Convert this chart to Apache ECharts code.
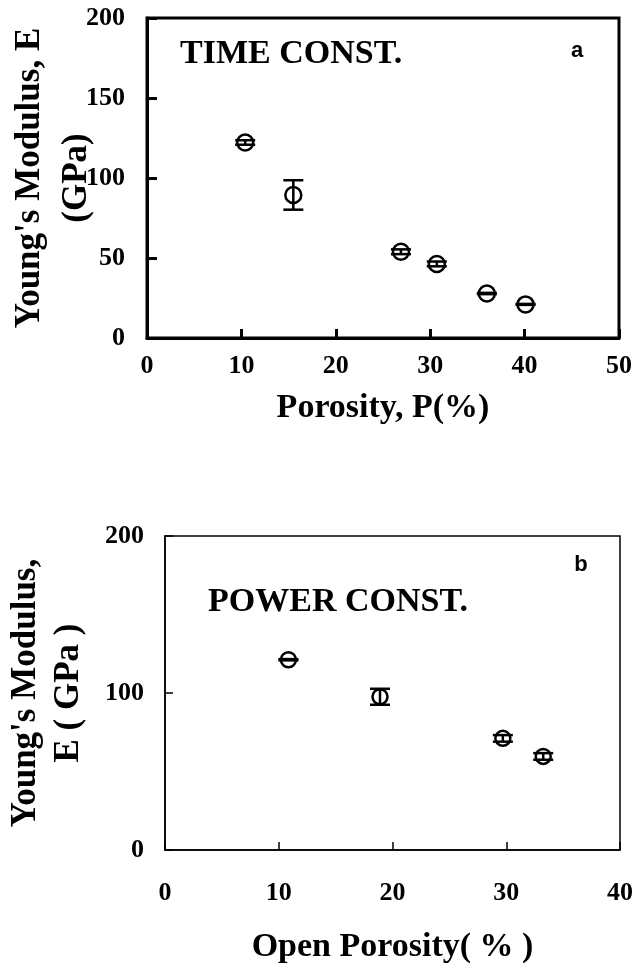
<!DOCTYPE html>
<html>
<head>
<meta charset="utf-8">
<script src="https://cdn.jsdelivr.net/npm/echarts@6/dist/echarts.min.js"></script>
<style>
  html, body { margin: 0; padding: 0; background: #fff; }
  #main { width: 632px; height: 965px; }
</style>
</head>
<body>
<div id="main"></div>
<script>
// panel a: time constant
var porosityA = [10.4, 15.5, 26.9, 30.7, 36.0, 40.1];
var modulusA = [122.2, 89.4, 53.9, 46.3, 27.8, 21.0];
var errorA = [1.4, 9.2, 1.5, 1.5, 0.4, 0.3];
var xTicksA = [0, 10, 20, 30, 40, 50];
var yTicksA = [0, 50, 100, 150, 200];

// panel b: power constant
var openPorosityB = [10.85, 18.9, 29.7, 33.25];
var modulusB = [121.2, 97.6, 71.1, 59.6];
var errorB = [0.4, 5.1, 2.1, 2.1];
var xTicksB = [0, 10, 20, 30, 40];
var yTicksB = [0, 100, 200];

var serif = '"Liberation Serif", "Times New Roman", serif';
var sans = '"Liberation Sans", Arial, sans-serif';

function pack(xs, ys, es) {
  return xs.map(function (x, i) { return [x, ys[i], es[i]]; });
}

function errorBar(capW, lw) {
  return function (params, api) {
    var x = api.value(0), y = api.value(1), e = api.value(2);
    var hi = api.coord([x, y + e]);
    var lo = api.coord([x, y - e]);
    var st = { stroke: '#000', lineWidth: lw, fill: null };
    return {
      type: 'group',
      children: [
        { type: 'line', shape: { x1: hi[0], y1: hi[1], x2: lo[0], y2: lo[1] }, style: st },
        { type: 'line', shape: { x1: hi[0] - capW / 2, y1: hi[1], x2: hi[0] + capW / 2, y2: hi[1] }, style: st },
        { type: 'line', shape: { x1: lo[0] - capW / 2, y1: lo[1], x2: lo[0] + capW / 2, y2: lo[1] }, style: st }
      ]
    };
  };
}

function valAxis(ticks, idx, lw, extra) {
  var ax = {
    type: 'value',
    gridIndex: idx,
    min: ticks[0],
    max: ticks[ticks.length - 1],
    interval: ticks[1] - ticks[0],
    nameMoveOverlap: false,
    axisLine: { show: true, lineStyle: { color: '#000', width: lw } },
    axisTick: { show: true, inside: true, length: 9, lineStyle: { color: '#000', width: lw } },
    splitLine: { show: false },
    axisLabel: { color: '#000', fontFamily: serif, fontWeight: 'bold', fontSize: 26 },
    nameTextStyle: { color: '#000', fontFamily: serif, fontWeight: 'bold', fontSize: 34 }
  };
  for (var k in extra) {
    if (typeof extra[k] === 'object' && ax[k]) Object.assign(ax[k], extra[k]);
    else ax[k] = extra[k];
  }
  return ax;
}

var myChart = echarts.init(document.getElementById('main'));

var option = {
  backgroundColor: '#fff',
  animation: false,
  grid: [
    { left: 147, right: 13, top: 18, bottom: 627, show: true, borderColor: '#000', borderWidth: 3,
      containLabel: false, outerBoundsMode: 'none' },
    { left: 165, right: 12, top: 536, bottom: 115, show: true, borderColor: '#000', borderWidth: 1.5,
      containLabel: false, outerBoundsMode: 'none' }
  ],
  xAxis: [
    valAxis(xTicksA, 0, 3, {
      name: 'Porosity, P(%)', nameLocation: 'middle', nameGap: 53,
      axisLabel: { margin: 15 }
    }),
    valAxis(xTicksB, 1, 1.5, {
      name: 'Open Porosity( % )', nameLocation: 'middle', nameGap: 80,
      axisLabel: { margin: 30 }, axisTick: { length: 8 }
    })
  ],
  yAxis: [
    valAxis(yTicksA, 0, 3, {
      name: "Young's Modulus, E\n(GPa)", nameLocation: 'middle', nameGap: 47, nameRotate: 90,
      nameTextStyle: { lineHeight: 47, fontSize: 35 },
      axisLabel: { margin: 22 }, axisTick: { length: 10 }
    }),
    valAxis(yTicksB, 1, 1.5, {
      name: "Young's Modulus,\nE ( GPa )", nameLocation: 'middle', nameGap: 75, nameRotate: 90,
      nameTextStyle: { lineHeight: 43, fontSize: 35 },
      axisLabel: { margin: 21 }, axisTick: { length: 8 }
    })
  ],
  graphic: [
    { type: 'text', x: 180, y: 54, style: { text: 'TIME CONST.', fill: '#000', font: 'bold 34px ' + serif, align: 'left', verticalAlign: 'middle' } },
    { type: 'text', x: 577, y: 51, style: { text: 'a', fill: '#000', font: 'bold 22px ' + sans, align: 'center', verticalAlign: 'middle' } },
    { type: 'text', x: 208, y: 602, style: { text: 'POWER CONST.', fill: '#000', font: 'bold 34px ' + serif, align: 'left', verticalAlign: 'middle' } },
    { type: 'text', x: 581, y: 565, style: { text: 'b', fill: '#000', font: 'bold 22px ' + sans, align: 'center', verticalAlign: 'middle' } }
  ],
  series: [
    {
      name: 'errA', type: 'custom', xAxisIndex: 0, yAxisIndex: 0,
      renderItem: errorBar(20, 2.5),
      data: pack(porosityA, modulusA, errorA), z: 3
    },
    {
      name: 'time const', type: 'scatter', xAxisIndex: 0, yAxisIndex: 0,
      symbol: 'circle', symbolSize: 16,
      itemStyle: { color: 'rgba(0,0,0,0)', borderColor: '#000', borderWidth: 2.5, opacity: 1 },
      data: pack(porosityA, modulusA, errorA), z: 4
    },
    {
      name: 'errB', type: 'custom', xAxisIndex: 1, yAxisIndex: 1,
      renderItem: errorBar(20, 2.5),
      data: pack(openPorosityB, modulusB, errorB), z: 3
    },
    {
      name: 'power const', type: 'scatter', xAxisIndex: 1, yAxisIndex: 1,
      symbol: 'circle', symbolSize: 15,
      itemStyle: { color: 'rgba(0,0,0,0)', borderColor: '#000', borderWidth: 2.5, opacity: 1 },
      data: pack(openPorosityB, modulusB, errorB), z: 4
    }
  ]
};

option && myChart.setOption(option);
</script>
</body>
</html>
